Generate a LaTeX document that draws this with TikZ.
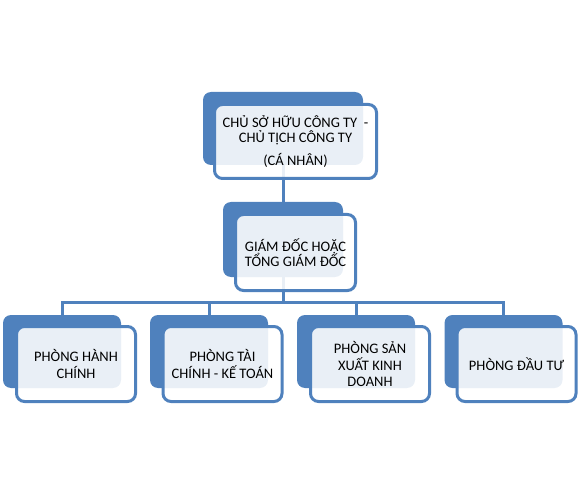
\documentclass[tikz,border=0pt]{standalone}
\usepackage{fontspec}
\setmainfont{Carlito}
\usepackage{tikz}
\usepackage{xcolor}
\usetikzlibrary{positioning}

\definecolor{orgblue}{HTML}{4F81BD}

\begin{document}
\begin{tikzpicture}[
  x=1pt, y=-1pt,
  back/.style={fill=orgblue, rounded corners=8pt, inner sep=0pt},
  front/.style={draw=orgblue, line width=3pt, fill=white, fill opacity=0.88,
                text opacity=1, rounded corners=8pt, inner sep=0pt,
                align=center, font=\fontsize{14.5}{16.5}\selectfont},
  link/.style={draw=orgblue, line width=3pt},
  dept/.style={minimum width=118pt, minimum height=73pt},
  deptfront/.style={minimum width=119pt, minimum height=75pt}
]
  \useasboundingbox (0,0) rectangle (579,492);

  % back boxes
  \node[back, minimum width=160pt, minimum height=73pt] (ownerbk) at (283,128.5) {};
  \node[back, minimum width=120pt, minimum height=75pt] (ceobk) at (283,239.5) {};
  \node[back, dept] (adminbk) at (62,351.5) {};
  \node[back, dept] (financebk) at (209,351.5) {};
  \node[back, dept] (prodbk) at (356,351.5) {};
  \node[back, dept] (investbk) at (503.5,351.5) {};

  % connectors
  \draw[link] (ownerbk.south) -- (ceobk.north);
  \draw[link] (ceobk.south) -- ++(0,25) -| (adminbk.north);
  \draw[link] (ceobk.south) -- ++(0,25) -| (financebk.north);
  \draw[link] (ceobk.south) -- ++(0,25) -| (prodbk.north);
  \draw[link] (ceobk.south) -- ++(0,25) -| (investbk.north);

  % front boxes
  \node[front, minimum width=162pt, minimum height=74pt] (owner) at (295.5,141.5)
    {CHỦ SỞ HỮU CÔNG TY\ \ -\\[-1.5pt] CHỦ TỊCH CÔNG TY\\[6pt](CÁ NHÂN)};
  \node[front, minimum width=120pt, minimum height=76pt] (ceo) at (295.5,252.5)
    {GIÁM ĐỐC HOẶC\\[-2pt]TỔNG GIÁM ĐỐC};
  \node[front, deptfront] (admin) at (76,364) {PHÒNG HÀNH\\CHÍNH};
  \node[front, deptfront] (finance) at (222.5,364) {PHÒNG TÀI\\CHÍNH - KẾ TOÁN};
  \node[front, deptfront] (prod) at (370,364) {PHÒNG SẢN\\XUẤT KINH\\DOANH};
  \node[front, deptfront] (invest) at (516.5,364) {PHÒNG ĐẦU TƯ};
\end{tikzpicture}
\end{document}
